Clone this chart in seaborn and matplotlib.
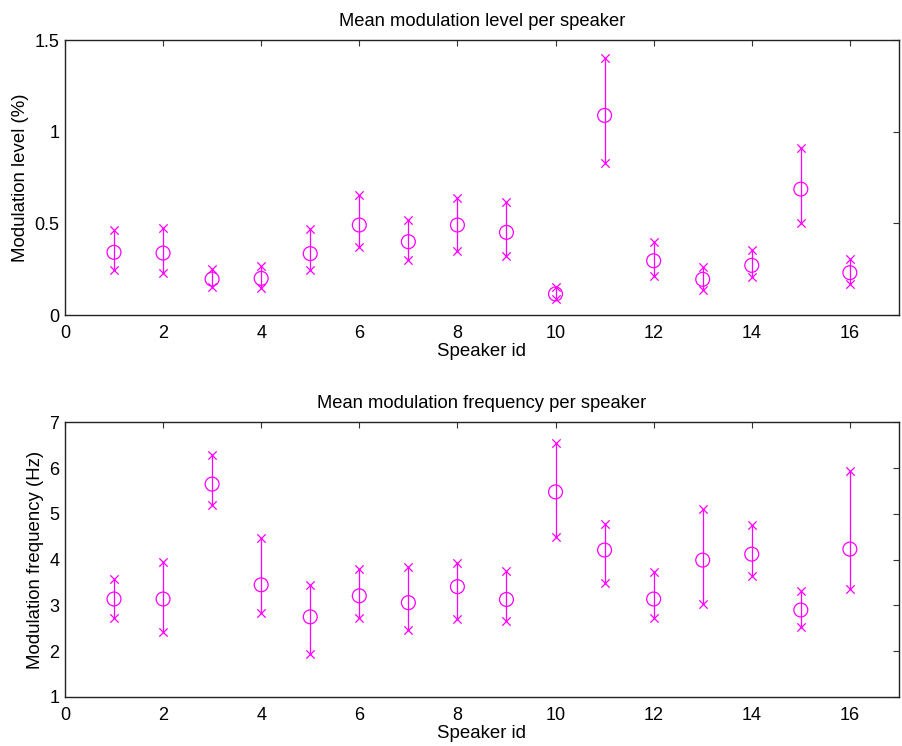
import matplotlib
matplotlib.use("Agg")
import matplotlib.pyplot as plt
import seaborn as sns
import pandas as pd
from matplotlib.ticker import FuncFormatter

speakers = list(range(1, 17))

level_mean = [0.342, 0.338, 0.196, 0.200, 0.335, 0.491, 0.400, 0.491,
              0.451, 0.115, 1.089, 0.296, 0.195, 0.271, 0.687, 0.231]
level_high = [0.465, 0.473, 0.253, 0.269, 0.467, 0.653, 0.518, 0.636,
              0.618, 0.155, 1.404, 0.400, 0.260, 0.355, 0.909, 0.307]
level_low = [0.245, 0.231, 0.151, 0.145, 0.245, 0.369, 0.300, 0.351,
             0.320, 0.089, 0.827, 0.211, 0.136, 0.205, 0.502, 0.169]

freq_mean = [3.14, 3.14, 5.65, 3.45, 2.75, 3.21, 3.06, 3.41,
             3.13, 5.48, 4.21, 3.14, 3.99, 4.12, 2.90, 4.23]
freq_high = [3.57, 3.95, 6.28, 4.47, 3.45, 3.80, 3.83, 3.92,
             3.75, 6.54, 4.78, 3.72, 5.11, 4.76, 3.32, 5.94]
freq_low = [2.73, 2.41, 5.19, 2.83, 1.93, 2.73, 2.46, 2.71,
            2.67, 4.50, 3.50, 2.72, 3.04, 3.64, 2.52, 3.35]

sns.set_theme(style="white")
plt.rcParams["font.family"] = ["Liberation Sans", "DejaVu Sans"]
plt.rcParams.update({
    "text.color": "black", "axes.labelcolor": "black",
    "xtick.direction": "in", "ytick.direction": "in",
    "xtick.top": True, "ytick.right": True,
    "xtick.major.size": 4, "ytick.major.size": 4,
    "xtick.major.width": 0.8, "ytick.major.width": 0.8,
    "xtick.color": "#333333", "ytick.color": "#333333",
    "xtick.labelcolor": "black", "ytick.labelcolor": "black",
})

MAG = "#ff00ff"

fig = plt.figure(figsize=(9.02, 7.46), dpi=100)
ax_top = fig.add_axes([0.072, 0.5777, 0.9246, 0.3686])
ax_bot = fig.add_axes([0.072, 0.0657, 0.9246, 0.3682])


def num_fmt(v, _pos):
    return ("%g" % v)


def panel(ax, mean, low, high, title, ylabel, ylim, yticks):
    df = pd.DataFrame({"speaker": speakers, "mean": mean, "low": low, "high": high})
    ax.vlines(df["speaker"], df["low"], df["high"], color=MAG, lw=0.9, zorder=2)
    sns.scatterplot(data=df, x="speaker", y="high", ax=ax, marker="x", s=36,
                    color=MAG, linewidth=0.9, zorder=3, legend=False)
    sns.scatterplot(data=df, x="speaker", y="low", ax=ax, marker="x", s=36,
                    color=MAG, linewidth=0.9, zorder=3, legend=False)
    sns.scatterplot(data=df, x="speaker", y="mean", ax=ax, marker="o", s=100,
                    facecolor="none", edgecolor=MAG, linewidth=0.9, zorder=4,
                    legend=False)
    ax.set_xlim(0, 17)
    ax.set_xticks(range(0, 17, 2))
    ax.set_ylim(*ylim)
    ax.set_yticks(yticks)
    ax.yaxis.set_major_formatter(FuncFormatter(num_fmt))
    ax.tick_params(axis="x", labelsize=13, pad=7)
    ax.tick_params(axis="y", labelsize=13, pad=4)
    ax.set_xlabel("Speaker id", fontsize=13.4, labelpad=1)
    ax.set_ylabel(ylabel, fontsize=13.4, labelpad=4)
    ax.set_title(title, fontsize=13.2, pad=10)
    for sp in ax.spines.values():
        sp.set_color("#222222")
        sp.set_linewidth(1.0)


panel(ax_top, level_mean, level_low, level_high,
      "Mean modulation level per speaker", "Modulation level (%)",
      (0, 1.5), [0, 0.5, 1, 1.5])
panel(ax_bot, freq_mean, freq_low, freq_high,
      "Mean modulation frequency per speaker", "Modulation frequency (Hz)",
      (1, 7), [1, 2, 3, 4, 5, 6, 7])

fig.savefig("out.png", dpi=100, facecolor="white")
